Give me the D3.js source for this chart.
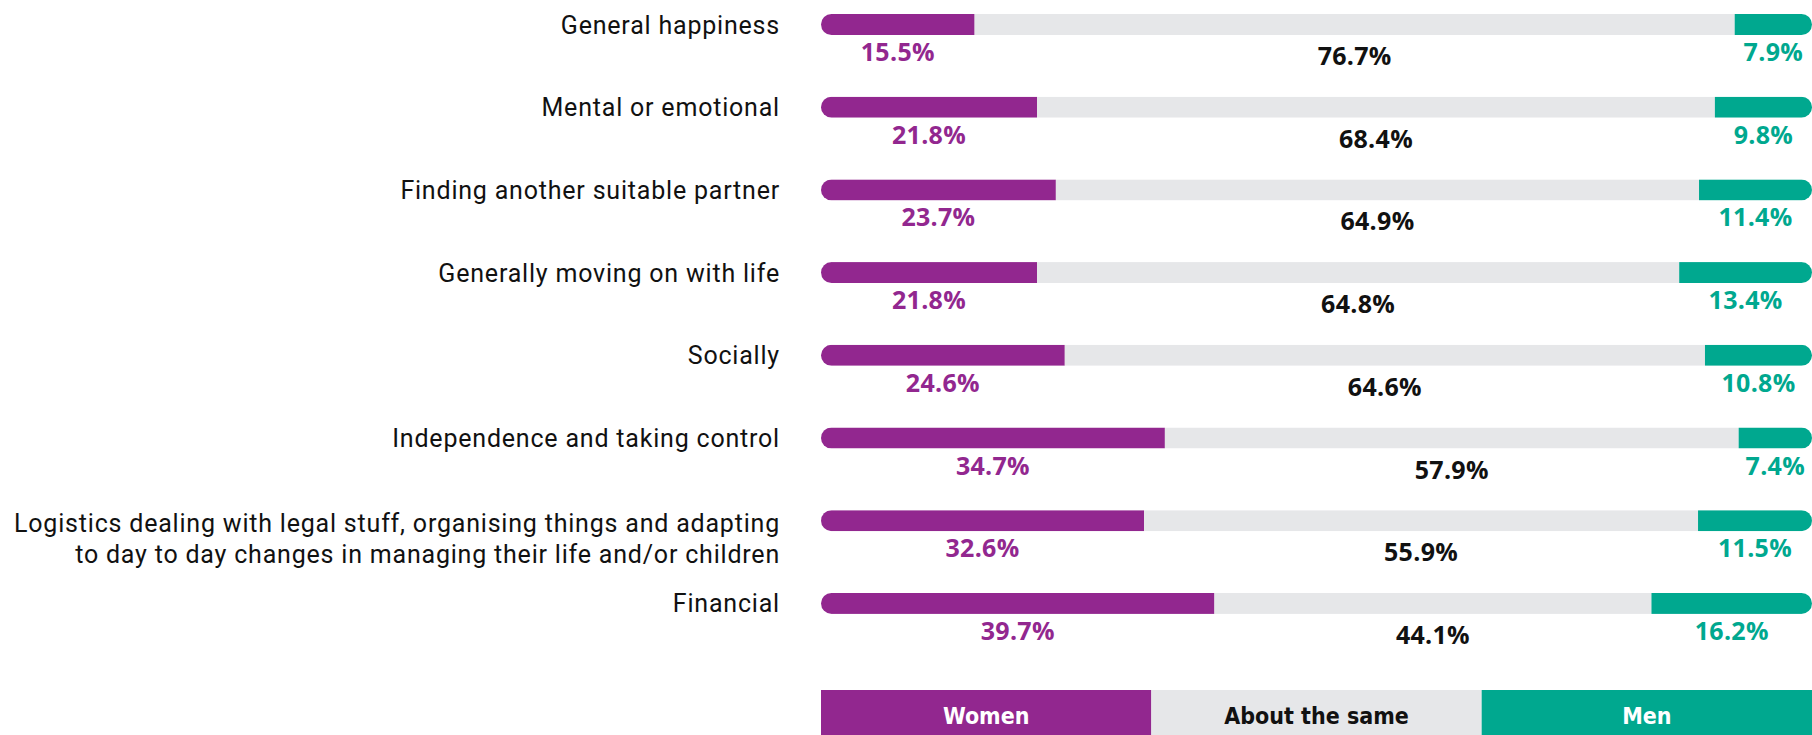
<!DOCTYPE html>
<html>
<head>
<meta charset="utf-8">
<script src="https://cdn.jsdelivr.net/npm/d3@7"></script>
<style>
  body { margin: 0; background: #fff; }
  svg { display: block; }
</style>
</head>
<body>
<div id="chart"></div>
<script>
// categories and shares (%)
var categories = [
  "General happiness",
  "Mental or emotional",
  "Finding another suitable partner",
  "Generally moving on with life",
  "Socially",
  "Independence and taking control",
  "Logistics dealing with legal stuff, organising things and adapting|to day to day changes in managing their life and/or children",
  "Financial"
];
var women = [15.5, 21.8, 23.7, 21.8, 24.6, 34.7, 32.6, 39.7];
var same  = [76.7, 68.4, 64.9, 64.8, 64.6, 57.9, 55.9, 44.1];
var men   = [7.9, 9.8, 11.4, 13.4, 10.8, 7.4, 11.5, 16.2];
var legendLabels = ["Women", "About the same", "Men"];

var W = 1812, H = 735;
var purple = "#92278f", grey = "#e6e7e9", green = "#00a88f";
var barH = 21;

var svg = d3.select("#chart").append("svg")
    .attr("width", W)
    .attr("height", H);

var x = d3.scaleLinear().domain([0, 100]).range([821, 1812]);
var y = d3.scaleBand().domain(categories).range([14, 14 + 8 * 82.7]).padding(0);

var rows = categories.map(function(c, i) {
  return {cat: c, w: women[i], s: same[i], m: men[i]};
});

var defs = svg.append("defs");
rows.forEach(function(d, i) {
  defs.append("clipPath").attr("id", "clip" + i)
    .append("rect")
      .attr("x", x(0))
      .attr("y", y(d.cat))
      .attr("width", x(100) - x(0))
      .attr("height", barH)
      .attr("rx", barH / 2);
});

var row = svg.selectAll("g.row")
  .data(rows)
  .enter().append("g")
    .attr("class", "row");

// bars
row.append("g")
    .attr("clip-path", function(d, i) { return "url(#clip" + i + ")"; })
  .each(function(d) {
    var g = d3.select(this);
    var segs = [
      {a: 0, b: d.w, c: purple},
      {a: d.w, b: d.w + d.s, c: grey},
      {a: d.w + d.s, b: 100, c: green}
    ];
    g.selectAll("rect").data(segs).enter().append("rect")
      .attr("x", function(s) { return x(s.a); })
      .attr("y", y(d.cat))
      .attr("width", function(s) { return x(s.b) - x(s.a); })
      .attr("height", barH)
      .attr("fill", function(s) { return s.c; });
  });

// value labels
var valFont = "'Open Sans', sans-serif";
row.each(function(d) {
  var g = d3.select(this);
  var top = y(d.cat);
  var labs = [
    {v: d.w, cx: (x(0) + x(d.w)) / 2, c: purple, dy: 0},
    {v: d.s, cx: (x(d.w) + x(d.w + d.s)) / 2, c: "#111", dy: 4},
    {v: d.m, cx: (x(d.w + d.s) + x(100)) / 2, c: green, dy: 0}
  ];
  g.selectAll("text.val").data(labs).enter().append("text")
    .attr("class", "val")
    .attr("x", function(l) { return l.cx; })
    .attr("y", function(l) { return top + 47 + l.dy; })
    .attr("text-anchor", "middle")
    .attr("fill", function(l) { return l.c; })
    .style("font-family", valFont)
    .style("font-weight", 700)
    .style("font-size", "25px")
    .style("letter-spacing", "0.3px")
    .text(function(l) { return l.v.toFixed(1) + "%"; });
});

// category labels
row.append("text")
    .attr("text-anchor", "end")
    .attr("x", 780)
    .attr("y", function(d) { return y(d.cat) + barH / 2 + 9; })
    .attr("fill", "#111")
    .style("font-family", "Roboto, sans-serif")
    .style("font-size", "25px")
    .style("letter-spacing", "0.8px")
  .each(function(d) {
    var parts = d.cat.split("|");
    var t = d3.select(this);
    parts.forEach(function(p, j) {
      t.append("tspan")
        .attr("x", 780)
        .attr("dy", j === 0 ? (parts.length > 1 ? 2 : 0) : 31)
        .text(p);
    });
  });

// legend
var lx = d3.scaleBand().domain(legendLabels).range([821, 1812]);
var lcol = [purple, grey, green];
var leg = svg.selectAll("g.leg")
  .data(legendLabels)
  .enter().append("g")
    .attr("class", "leg");
leg.append("rect")
    .attr("x", function(d) { return lx(d); })
    .attr("y", 690)
    .attr("width", lx.bandwidth())
    .attr("height", 50)
    .attr("fill", function(d, i) { return lcol[i]; });
leg.append("text")
    .attr("x", function(d) { return lx(d) + lx.bandwidth() / 2; })
    .attr("y", 724)
    .attr("text-anchor", "middle")
    .attr("fill", function(d, i) { return i === 1 ? "#111" : "#fff"; })
    .style("font-family", "'DejaVu Sans Condensed', 'DejaVu Sans', sans-serif")
    .style("font-weight", 700)
    .style("font-size", "23px")
    .text(function(d) { return d; });
</script>
</body>
</html>
